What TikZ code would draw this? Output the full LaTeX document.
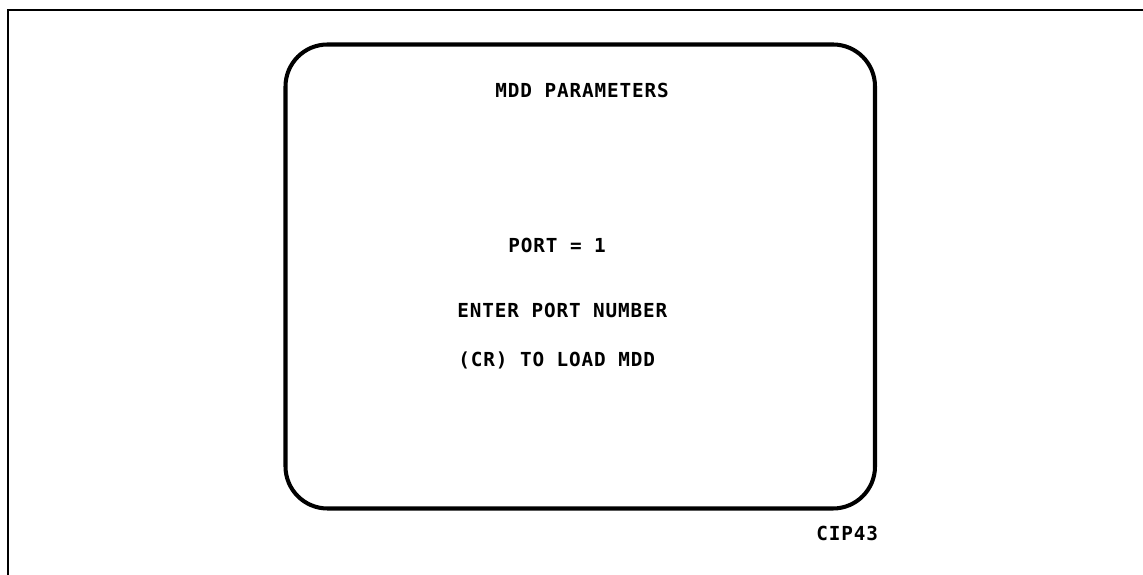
\documentclass[tikz,border=0pt]{standalone}
\usepackage{fontspec}
\newfontfamily\scrfont{DejaVu Sans Mono}[LetterSpace=4.5]
\usetikzlibrary{calc}

\begin{document}
\begin{tikzpicture}[scale=1, transform shape]
		\useasboundingbox (0,0) rectangle (22.86,11.5);
		\tikzset{txt/.style={anchor=base west,inner sep=0,font=\scrfont\bfseries\fontsize{11}{13}\selectfont}}
		\draw[line width=0.85pt] (0.16,0) -- (0.16,11.3) -- (22.86,11.3);
		\node (S) at (11.605,5.97) [draw,line width=2.3pt,rounded corners=0.84cm,minimum width=11.79cm,minimum height=9.28cm] {};
		\node (T) at (9.9,9.55) [txt] {MDD PARAMETERS};
		\node (P) at (10.16,6.45) [txt] {PORT = 1};
		\node (E) at (9.14,5.15) [txt] {ENTER PORT NUMBER};
		\node (L) at ($(E.base west) - (-0.02,0.98)$) [txt] {(CR) TO LOAD MDD};
		\node (C) at (16.32,0.69) [txt] {CIP43};
	\end{tikzpicture}
\end{document}
